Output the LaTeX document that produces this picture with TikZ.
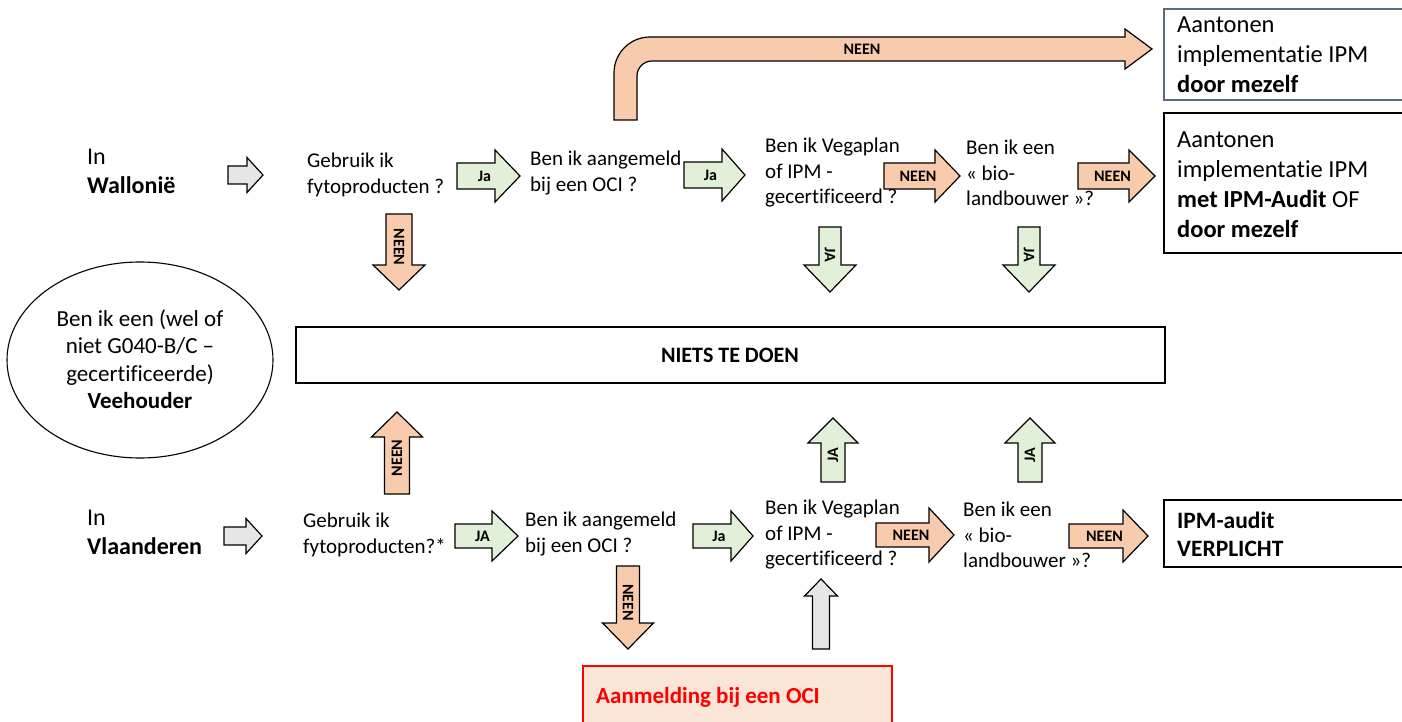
\documentclass[tikz,border=0pt]{standalone}
\usepackage{fontspec}
\setmainfont{Carlito}[RawFeature={-liga;-clig;-dlig;-rlig;-calt}]
\usetikzlibrary{shapes.geometric}
\definecolor{peach}{HTML}{F8CBAD}
\definecolor{lgreen}{HTML}{E2F0D9}
\definecolor{lgray}{HTML}{E7E6E6}
\definecolor{ocifill}{HTML}{FBE5D6}
\definecolor{slate}{HTML}{5A6B82}
\definecolor{ocired}{HTML}{FF0000}
% horizontal block arrow: name, xtail, xtip, yc, shaft half, head half, head length, fill, label
\newcommand{\harrow}[9]{%
  \draw[blockarrow,fill=#8] (#2,#4-#5) -- (#3-#7,#4-#5) -- (#3-#7,#4-#6) -- (#3,#4) -- (#3-#7,#4+#6) -- (#3-#7,#4+#5) -- (#2,#4+#5) -- cycle;
  \node[arrowlbl] (#1) at ({(#2+#3)/2-4},#4) {#9};}
% down block arrow: name, xc, ytail, ytip, shaft half, head half, head length, fill, label
\newcommand{\darrow}[9]{%
  \draw[blockarrow,fill=#8] (#2-#5,#3) -- (#2-#5,#4-#7) -- (#2-#6,#4-#7) -- (#2,#4) -- (#2+#6,#4-#7) -- (#2+#5,#4-#7) -- (#2+#5,#3) -- cycle;
  \node[arrowlbl,rotate=-90] (#1) at (#2,{(#3+#4)/2-5}) {#9};}
% up block arrow
\newcommand{\uarrow}[9]{%
  \draw[blockarrow,fill=#8] (#2-#5,#3) -- (#2-#5,#4+#7) -- (#2-#6,#4+#7) -- (#2,#4) -- (#2+#6,#4+#7) -- (#2+#5,#4+#7) -- (#2+#5,#3) -- cycle;
  \node[arrowlbl,rotate=90] (#1) at (#2,{(#3+#4)/2+5}) {#9};}
\begin{document}
\begin{tikzpicture}[x=1pt,y=-1pt,
  blockarrow/.style={draw=black,line width=1.2pt,line join=miter},
  arrowlbl/.style={font=\bfseries\fontsize{16}{17}\selectfont,inner sep=0pt},
  qtext/.style={font=\fontsize{21}{25.5}\selectfont,align=left,inner sep=0pt,anchor=west},
  regiontext/.style={font=\fontsize{24}{29}\selectfont,align=left,inner sep=0pt,anchor=west},
  boxtext/.style={font=\fontsize{24.5}{30}\selectfont,align=left,inner sep=0pt,anchor=west},
  outbox/.style={draw=black,line width=1.2pt}]
\useasboundingbox (0,0) rectangle (1402,722);

% ---------- boxes ----------
\draw[draw=slate,line width=1.1pt] (1164,9) rectangle (1410,100);
\node[boxtext] (res1) at (1177,55) {Aantonen\\implementatie IPM\\\textbf{door mezelf}};
\draw[outbox] (1164,113) rectangle (1410,253);
\node[boxtext] (res2) at (1177,185) {Aantonen\\implementatie IPM\\\textbf{met IPM-Audit} OF\\\textbf{door mezelf}};
\draw[outbox] (296,327) rectangle (1165,383);
\node[font=\bfseries\fontsize{22}{26}\selectfont,inner sep=0pt] (niets) at (730,355) {NIETS TE DOEN};
\draw[outbox] (1164,500) rectangle (1410,567);
\node[font=\bfseries\fontsize{23.5}{28}\selectfont,align=left,inner sep=0pt,anchor=west] (audit) at (1177,534) {IPM-audit\\VERPLICHT};
\draw[draw=ocired,fill=ocifill,line width=1.1pt] (583,666) rectangle (892,730);
\node[font=\bfseries\fontsize{23}{27}\selectfont,text=ocired,inner sep=0pt,anchor=west] (oci) at (596,697) {Aanmelding bij een OCI};

% ---------- ellipse ----------
\draw[line width=1.1pt] (140,360) ellipse (133 and 98);
\coordinate (ell) at (140,360);
\node[font=\fontsize{23}{27.5}\selectfont,align=center,inner sep=0pt] (veeh) at (140,359) {Ben ik een (wel of\\niet G040-B/C –\\gecertificeerde)\\\textbf{Veehouder}};

% ---------- texts top row ----------
\node[regiontext] (wal) at (87,171) {In\\\textbf{Wallonië}};
\node[qtext] (q1t) at (307,175) {Gebruik ik\\fytoproducten ?};
\node[qtext] (q2t) at (530,173) {Ben ik aangemeld\\bij een OCI ?};
\node[qtext] (q3t) at (765,173) {Ben ik Vegaplan\\of IPM -\\gecertificeerd ?};
\node[qtext] (q4t) at (966,173) {Ben ik een\\« bio-\\landbouwer »?};

% ---------- texts bottom row ----------
\node[regiontext] (vla) at (87,532) {In\\\textbf{Vlaanderen}};
\node[qtext] (q1b) at (303,535) {Gebruik ik\\fytoproducten?*};
\node[qtext] (q2b) at (525,534) {Ben ik aangemeld\\bij een OCI ?};
\node[qtext] (q3b) at (765,535) {Ben ik Vegaplan\\of IPM -\\gecertificeerd ?};
\node[qtext] (q4b) at (963,535) {Ben ik een\\« bio-\\landbouwer »?};

% ---------- bent arrow ----------
\draw[blockarrow,fill=peach] (614,120) -- (614,73) .. controls (614,53.1) and (630.1,37) .. (650,37)
  -- (1125,37) -- (1125,29) -- (1152,49) -- (1125,69) -- (1125,61) -- (652,61)
  .. controls (643.7,61) and (637,67.7) .. (637,76) -- (637,120) -- cycle;
\node[arrowlbl] (bentlbl) at (862,49) {NEEN};

% ---------- top row arrows ----------
\harrow{gw}{228}{263}{175}{9}{17.5}{16}{lgray}{}
\harrow{ja1}{457}{520}{176}{13}{26}{25}{lgreen}{Ja}
\harrow{ja2}{684}{745}{175}{13}{26}{23}{lgreen}{Ja}
\harrow{ne1}{884}{960}{176}{13}{26}{25}{peach}{NEEN}
\harrow{ne2}{1078}{1155}{176}{13}{26}{26}{peach}{NEEN}
\darrow{dn1}{399}{214}{290}{13}{26}{25}{peach}{NEEN}
\darrow{dj1}{830}{227}{292}{11}{26}{27}{lgreen}{JA}
\darrow{dj2}{1029}{227}{292}{11}{26}{27}{lgreen}{JA}

% ---------- bottom row arrows ----------
\harrow{gv}{224}{262}{536}{9}{17.5}{16}{lgray}{}
\harrow{ja3}{455}{518}{536}{12}{25}{26}{lgreen}{JA}
\harrow{ja4}{693}{753}{536}{12}{25}{22}{lgreen}{Ja}
\harrow{ne3}{876}{954}{535}{12}{27}{25}{peach}{NEEN}
\harrow{ne4}{1069}{1148}{536}{12}{26}{25}{peach}{NEEN}
\uarrow{un1}{397}{494}{412}{12.5}{25.5}{25}{peach}{NEEN}
\uarrow{uj1}{833}{482}{418}{12}{25}{25}{lgreen}{JA}
\uarrow{uj2}{1030}{482}{418}{12}{25}{25}{lgreen}{JA}
\darrow{dn2}{628}{566}{649}{11.5}{25.5}{26}{peach}{NEEN}
\uarrow{ug}{821}{649}{579}{8.5}{16.5}{17}{lgray}{}
\end{tikzpicture}
\end{document}
